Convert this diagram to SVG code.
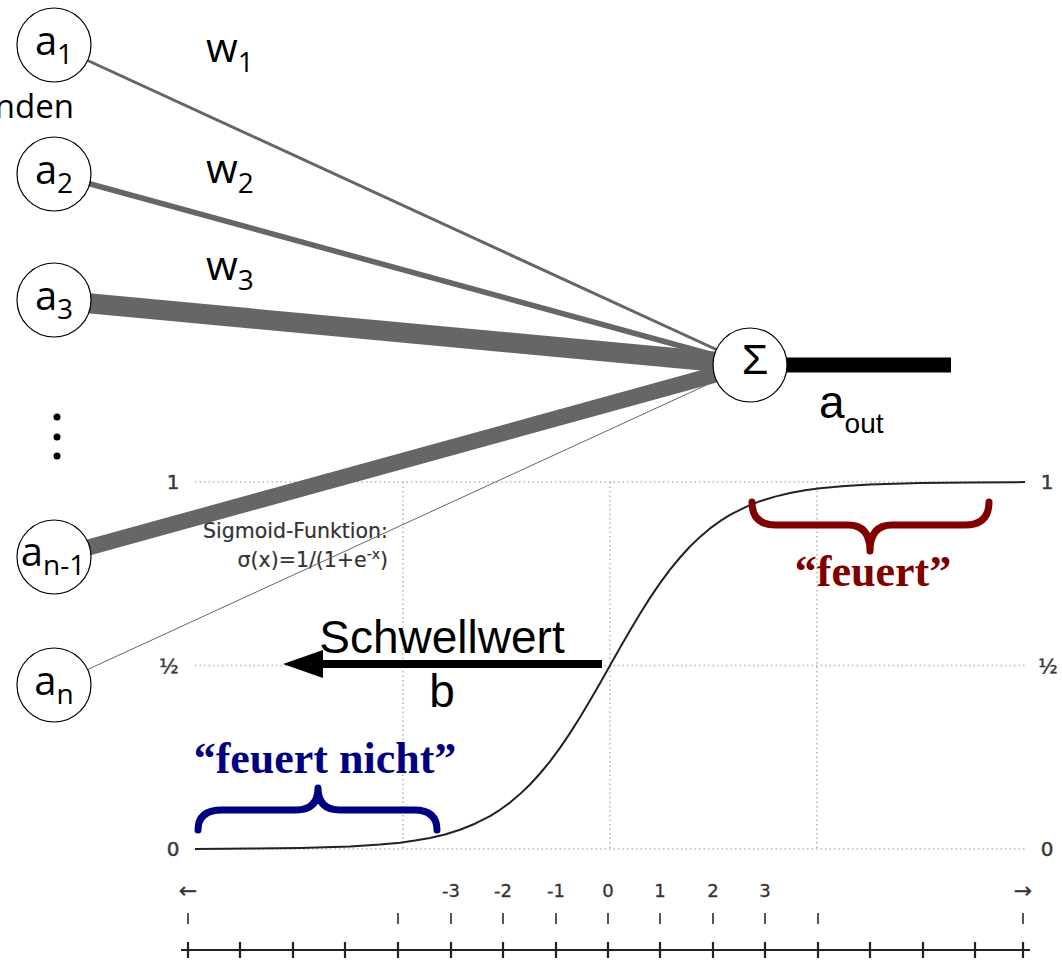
<svg xmlns="http://www.w3.org/2000/svg" width="1062" height="963" viewBox="0 0 1062 963">
  <style>
    .node { fill: #fff; stroke: #000; stroke-width: 1.2; }
    .lbl { font-family: "Open Sans", "Noto Sans", sans-serif; font-size: 40px; fill: #000; }
    .sub { font-size: 28px; }
    .wlbl { font-family: "Open Sans", "Noto Sans", sans-serif; font-size: 41px; fill: #000; }
    .edge { stroke: #666; fill: none; }
    .grid { stroke: #b4b4b4; stroke-width: 1.5; stroke-dasharray: 1.5 3; fill: none; }
    .axlbl { font-family: "DejaVu Sans", sans-serif; font-size: 20px; fill: #3a3a3a; stroke: #3a3a3a; stroke-width: 0.5; text-anchor: middle; }
    .ticklbl { font-family: "DejaVu Sans", sans-serif; font-size: 18px; fill: #333; stroke: #333; stroke-width: 0.3; text-anchor: middle; }
    .arrowlbl { font-size: 22px; }
    .note { font-family: "DejaVu Sans", sans-serif; font-size: 20.5px; fill: #333; stroke: #333; stroke-width: 0.2; text-anchor: end; }
    .big { font-family: "Liberation Sans", Arial, sans-serif; fill: #000; }
    .quote { font-family: "Liberation Serif", serif; font-weight: bold; font-size: 44px; text-anchor: middle; }
    .brace { fill: none; stroke-width: 7; stroke-linecap: round; stroke-linejoin: round; }
  </style>

  <rect width="1062" height="963" fill="#fff"/>

  <!-- sigmoid plot -->
  <g id="plot">
    <path class="grid" d="M195,482 H1025 M195,665.5 H1025 M195,849 H1025 M403,482 V849 M610,482 V849 M817,482 V849"/>
    <polyline fill="none" stroke="#222" stroke-width="2" stroke-linejoin="round"
      points="195,848.9 250,848.6 300,848.1 350,846.6 380,844.6 400,842.8 415,840.6 430,838.0 445,834.5 460,829.8 475,823.7 490,816.1 500,809.8 510,802.6 520,794.1 530,784.5 540,773.5 550,761.4 560,747.9 570,733.1 580,717.3 590,700.5 600,683.2 610,665.5 620,647.8 630,630.5 640,613.7 650,597.9 660,583.1 670,569.6 680,557.5 690,546.5 700,536.9 710,528.4 720,521.2 730,514.9 745,507.4 760,501.2 775,496.6 790,493.0 805,490.3 820,488.2 845,485.9 870,484.4 920,482.9 970,482.4 1025,482.1"/>
    <text class="axlbl" x="173" y="489">1</text>
    <text class="axlbl" x="169" y="673">½</text>
    <text class="axlbl" x="173" y="856">0</text>
    <text class="axlbl" x="1047" y="489">1</text>
    <text class="axlbl" x="1048" y="673">½</text>
    <text class="axlbl" x="1047" y="856">0</text>
    <text class="note" x="388" y="538">Sigmoid-Funktion:</text>
    <text class="note" x="388" y="567">σ(x)=1/(1+e<tspan font-size="14" dy="-8">-x</tspan><tspan dy="8">)</tspan></text>
  </g>

  <!-- number line under the plot -->
  <g id="axis">
    <g class="ticklbl">
      <text class="arrowlbl" x="188" y="898">←</text>
      <text x="451" y="897">-3</text>
      <text x="503" y="897">-2</text>
      <text x="556" y="897">-1</text>
      <text x="608" y="897">0</text>
      <text x="660" y="897">1</text>
      <text x="713" y="897">2</text>
      <text x="765" y="897">3</text>
      <text class="arrowlbl" x="1023" y="898">→</text>
    </g>
    <path stroke="#444" stroke-width="1.8" d="M188,913 V924 M398,913 V924 M451,913 V924 M503,913 V924 M556,913 V924 M608,913 V924 M660,913 V924 M713,913 V924 M765,913 V924 M818,913 V924 M1023,913 V924"/>
    <path stroke="#222" stroke-width="2.2" fill="none" d="M181,950 H1030 M188,942 V958 M240,942 V958 M293,942 V958 M345,942 V958 M398,942 V958 M451,942 V958 M503,942 V958 M556,942 V958 M608,942 V958 M660,942 V958 M713,942 V958 M765,942 V958 M818,942 V958 M870,942 V958 M923,942 V958 M975,942 V958 M1023,942 V958"/>
  </g>

  <!-- weighted inputs -->
  <g id="connectors">
    <line class="edge" x1="54" y1="45" x2="750" y2="365" stroke-width="3"/>
    <line class="edge" x1="54" y1="174" x2="750" y2="365" stroke-width="5.5"/>
    <line class="edge" x1="54" y1="300" x2="750" y2="365" stroke-width="20"/>
    <line class="edge" x1="54" y1="557" x2="750" y2="365" stroke-width="16"/>
    <line class="edge" x1="54" y1="685" x2="750" y2="365" stroke-width="1"/>
    <line x1="787" y1="365" x2="951" y2="365" stroke="#000" stroke-width="15"/>
  </g>

  <!-- weight labels -->
  <g id="weights">
    <text class="wlbl" x="206" y="62">w<tspan class="sub" dy="10">1</tspan></text>
    <text class="wlbl" x="206" y="183">w<tspan class="sub" dy="10">2</tspan></text>
    <text class="wlbl" x="206" y="280">w<tspan class="sub" dy="10">3</tspan></text>
  </g>

  <text id="caption-left" x="74" y="118" text-anchor="end" font-family="Open Sans, Noto Sans, sans-serif" font-size="33" fill="#000">nden</text>

  <!-- input neurons -->
  <g id="node-a1">
    <circle class="node" cx="54" cy="45" r="37"/>
    <text class="lbl" x="54" y="55" text-anchor="middle">a<tspan class="sub" dy="9">1</tspan></text>
  </g>
  <g id="node-a2">
    <circle class="node" cx="54" cy="174" r="37"/>
    <text class="lbl" x="54" y="184" text-anchor="middle">a<tspan class="sub" dy="9">2</tspan></text>
  </g>
  <g id="node-a3">
    <circle class="node" cx="54" cy="300" r="37"/>
    <text class="lbl" x="54" y="310" text-anchor="middle">a<tspan class="sub" dy="9">3</tspan></text>
  </g>
  <g id="ellipsis" fill="#000">
    <circle cx="57" cy="417" r="3.5"/>
    <circle cx="57" cy="437" r="3.5"/>
    <circle cx="57" cy="456" r="3.5"/>
  </g>
  <g id="node-an-1">
    <circle class="node" cx="54" cy="557" r="37"/>
    <text class="lbl" x="53" y="566" text-anchor="middle">a<tspan class="sub" dy="9">n-1</tspan></text>
  </g>
  <g id="node-an">
    <circle class="node" cx="54" cy="685" r="37"/>
    <text class="lbl" x="54" y="695" text-anchor="middle">a<tspan class="sub" dy="9">n</tspan></text>
  </g>

  <!-- summation neuron and output -->
  <g id="node-sum">
    <circle class="node" cx="750" cy="365" r="37"/>
    <text class="big" x="755" y="374" font-size="43" text-anchor="middle">Σ</text>
  </g>
  <text id="output-label" class="big" x="819" y="418" font-size="46">a<tspan font-size="28" dy="15">out</tspan></text>

  <!-- threshold shift -->
  <g id="threshold">
    <line x1="602" y1="664" x2="318" y2="664" stroke="#000" stroke-width="8"/>
    <polygon points="283,664 323,650 323,678" fill="#000"/>
    <text class="big" x="442" y="653" font-size="46" text-anchor="middle">Schwellwert</text>
    <text class="big" x="442" y="707" font-size="46" text-anchor="middle">b</text>
  </g>

  <!-- regions of the activation -->
  <g id="not-firing">
    <path class="brace" stroke="#000080" d="M198,830 Q198,810 222,810 L296,810 Q318,810 318,788 Q318,810 340,810 L414,810 Q437,810 437,830"/>
    <text class="quote" x="325" y="773" fill="#000080">“feuert nicht”</text>
  </g>
  <g id="firing">
    <path class="brace" stroke="#800000" d="M752,502 Q752,525 776,525 L848,525 Q870,525 870,551 Q870,525 892,525 L965,525 Q989,525 989,502"/>
    <text class="quote" x="873" y="586" fill="#800000">“feuert”</text>
  </g>
</svg>
